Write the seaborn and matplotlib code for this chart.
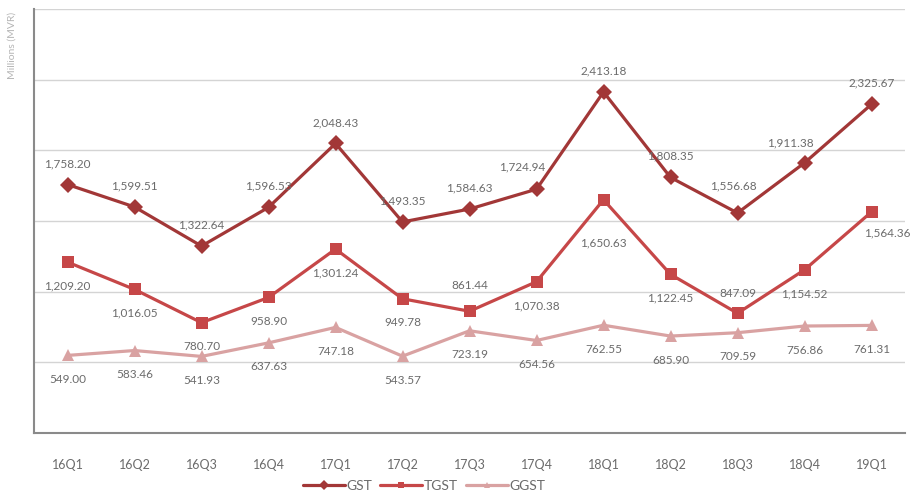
import pandas as pd
import numpy as np
import matplotlib
matplotlib.use("Agg")
import matplotlib.pyplot as plt
import seaborn as sns

# data
quarters = ["16Q1", "16Q2", "16Q3", "16Q4", "17Q1", "17Q2", "17Q3", "17Q4",
            "18Q1", "18Q2", "18Q3", "18Q4", "19Q1"]
gst = [1758.20, 1599.51, 1322.64, 1596.53, 2048.43, 1493.35, 1584.63, 1724.94,
       2413.18, 1808.35, 1556.68, 1911.38, 2325.67]
tgst = [1209.20, 1016.05, 780.70, 958.90, 1301.24, 949.78, 861.44, 1070.38,
        1650.63, 1122.45, 847.09, 1154.52, 1564.36]
ggst = [549.00, 583.46, 541.93, 637.63, 747.18, 543.57, 723.19, 654.56,
        762.55, 685.90, 709.59, 756.86, 761.31]

series = {"GST": gst, "TGST": tgst, "GGST": ggst}
df = pd.concat([pd.DataFrame({"quarter": quarters, "value": v, "series": k})
                for k, v in series.items()], ignore_index=True)

colors = {"GST": "#a23737", "TGST": "#c64748", "GGST": "#d9a2a2"}
markers = {"GST": "D", "TGST": "s", "GGST": "^"}

# label offsets in pixels (dx, dy)
gst_off = [(0, 21)] * 13
gst_off[7] = (-14, 22)
gst_off[10] = (-4, 27)
gst_off[11] = (-14, 20)
tgst_off = [(0, -24)] * 13
tgst_off[6] = (0, 26)
tgst_off[8] = (0, -43)
tgst_off[10] = (0, 20)
tgst_off[12] = (16, -21)
ggst_off = [(0, -24)] * 13
offsets = {"GST": gst_off, "TGST": tgst_off, "GGST": ggst_off}

sns.set_style("white")
plt.rcParams["font.family"] = ["Lato", "DejaVu Sans"]

fig = plt.figure(figsize=(9.12, 4.95), dpi=100)
ax = fig.add_axes([34 / 912, 1 - 433 / 495, 871 / 912, 424 / 495])

sns.lineplot(data=df, x="quarter", y="value", hue="series", style="series",
             palette=colors, markers=markers, dashes=False, linewidth=2.3,
             markersize=8, markeredgewidth=0, ax=ax, sort=False)

for name, vals in series.items():
    for i, v in enumerate(vals):
        dx, dy = offsets[name][i]
        ax.annotate(f"{v:,.2f}", (i, v), xytext=(dx, dy), textcoords="offset pixels",
                    ha="center", va="center", fontsize=8.5, color="#6b6b6b",
                    annotation_clip=False)

ax.set_xlim(-0.5, 12.5)
ax.set_ylim(0, 3000)
ax.set_yticks(np.arange(0, 3001, 500))
ax.set_yticklabels([])
ax.yaxis.grid(True, color="#d4d4d4", linewidth=1)
ax.set_axisbelow(True)
ax.set_xticks(range(13))
ax.set_xticklabels(quarters)
ax.set_xticks(np.arange(-0.5, 13, 1), minor=True)
ax.tick_params(axis="x", which="major", length=0, pad=19, labelsize=9, colors="#6b6b6b")
ax.tick_params(axis="x", which="minor", length=5, width=1.5, color="#8a8a8a", direction="out")
ax.tick_params(axis="y", length=6, width=1.5, color="#8a8a8a", direction="out")
ax.set_xlabel("")
ax.set_ylabel("")
for s in ["top", "right"]:
    ax.spines[s].set_visible(False)
for s in ["left", "bottom"]:
    ax.spines[s].set_color("#8a8a8a")
    ax.spines[s].set_linewidth(1.5)

fig.text(12 / 912, 1 - 45 / 495, "Millions (MVR)", rotation=90, ha="center", va="center",
         fontsize=7.5, color="#b5b5b5")

handles, labels = ax.get_legend_handles_labels()
ax.get_legend().remove()
fig.legend(handles, labels, loc="center", bbox_to_anchor=(424 / 912, 1 - 486 / 495),
           ncol=3, frameon=False, fontsize=10, handlelength=3.0, handletextpad=0.1,
           columnspacing=0.6, markerscale=0.6, labelcolor="#6b6b6b")

fig.savefig("out.png", dpi=100)
